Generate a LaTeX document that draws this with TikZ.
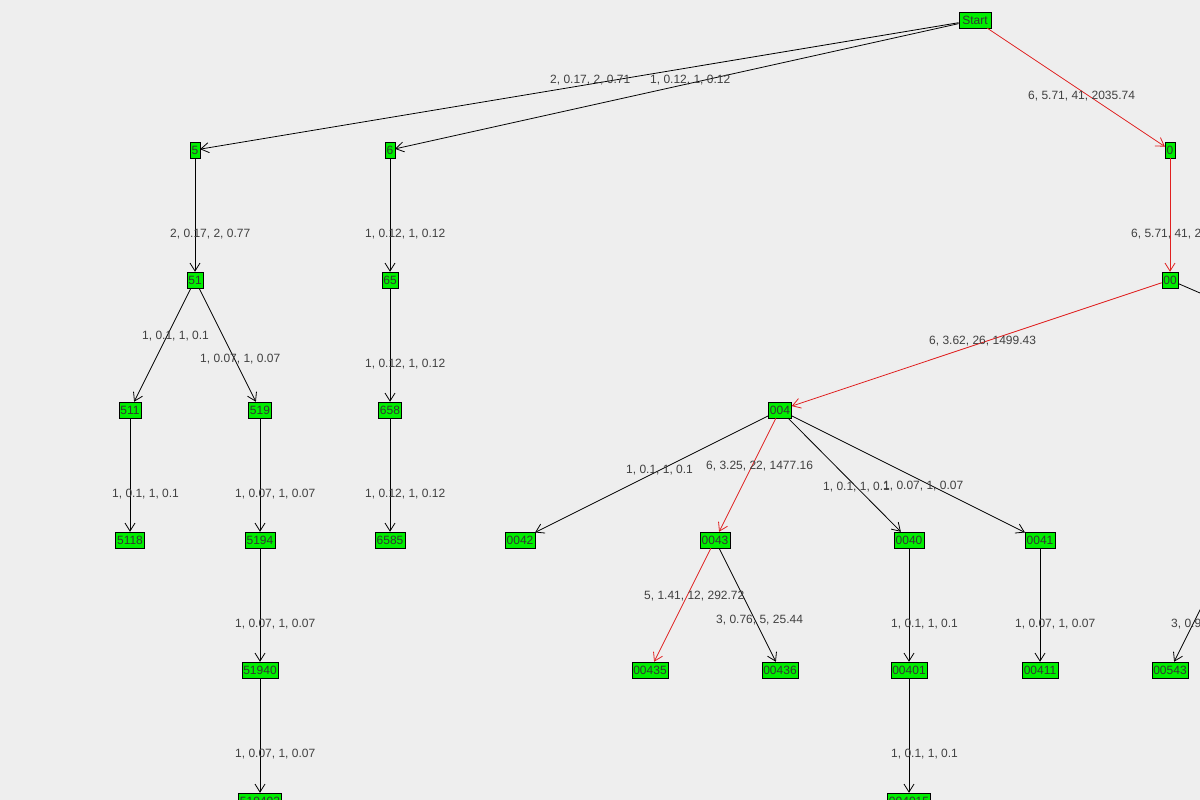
\documentclass[tikz,border=0pt]{standalone}
\usepackage{fontspec}
\setmainfont{Liberation Sans}
\usetikzlibrary{arrows.meta}
\definecolor{bg}{HTML}{EEEEEE}
\definecolor{ng}{HTML}{00EE00}
\definecolor{er}{HTML}{E02020}
\begin{document}
\begin{tikzpicture}[x=1pt,y=-1pt,
  nd/.style={draw=black,fill=ng,inner xsep=1.5pt,inner ysep=1pt,font=\fontsize{12}{12}\selectfont,text=black!80,minimum height=16pt},
  ed/.style={draw=black,line width=0.8pt,-{Straight Barb[length=8pt,width=10pt]}},
  hot/.style={ed,draw=er},
  lb/.style={anchor=west,inner sep=0pt,font=\fontsize{12}{12}\selectfont,text=black!75}]
\fill[bg] (0,0) rectangle (1200,800);
\useasboundingbox (0,0) rectangle (1200,800);
\clip (0,0) rectangle (1200,800);
\node[nd] (st) at (975,20) {\,Start\,};
\node[nd] (n5) at (195,150) {5};
\node[nd] (n6) at (390,150) {6};
\node[nd] (n0) at (1170,150) {0};
\node[nd] (n51) at (195,280) {51};
\node[nd] (n65) at (390,280) {65};
\node[nd] (n00) at (1170,280) {00};
\node[nd] (n511) at (130,410) {511};
\node[nd] (n519) at (260,410) {519};
\node[nd] (n658) at (390,410) {658};
\node[nd] (n004) at (780,410) {004};
\node[nd] (n5118) at (130,540) {5118};
\node[nd] (n5194) at (260,540) {5194};
\node[nd] (n6585) at (390,540) {6585};
\node[nd] (n0042) at (520,540) {0042};
\node[nd] (n0043) at (715,540) {0043};
\node[nd] (n0040) at (909,540) {0040};
\node[nd] (n0041) at (1040,540) {0041};
\node[nd] (n51940) at (260,670) {51940};
\node[nd] (n00435) at (650,670) {00435};
\node[nd] (n00436) at (780,670) {00436};
\node[nd] (n00401) at (909,670) {00401};
\node[nd] (n00411) at (1040,670) {00411};
\node[nd] (n00543) at (1170,670) {00543};
\node[nd] (n519402) at (260,801) {519402};
\node[nd] (n004015) at (909,801) {004015};
\coordinate (c005) at (1470,410);
\coordinate (c0054) at (1235,540);
\draw[ed] (st) -- (n5);
\draw[ed] (st) -- (n6);
\draw[hot] (st) -- (n0);
\draw[hot] (n0) -- (n00);
\draw[ed] (n5) -- (n51);
\draw[ed] (n6) -- (n65);
\draw[ed] (n51) -- (n511);
\draw[ed] (n51) -- (n519);
\draw[ed] (n65) -- (n658);
\draw[ed] (n511) -- (n5118);
\draw[ed] (n519) -- (n5194);
\draw[ed] (n658) -- (n6585);
\draw[ed] (n5194) -- (n51940);
\draw[ed] (n51940) -- (n519402);
\draw[hot] (n00) -- (n004);
\draw[draw=black,line width=0.8pt] (n00) -- (c005);
\draw[ed] (n004) -- (n0042);
\draw[hot] (n004) -- (n0043);
\draw[ed] (n004) -- (n0040);
\draw[ed] (n004) -- (n0041);
\draw[hot] (n0043) -- (n00435);
\draw[ed] (n0043) -- (n00436);
\draw[ed] (n0040) -- (n00401);
\draw[ed] (n00401) -- (n004015);
\draw[ed] (n0041) -- (n00411);
\draw[ed] (c0054) -- (n00543);
\node[lb] at (550,80) {2, 0.17, 2, 0.71};
\node[lb] at (650,80) {1, 0.12, 1, 0.12};
\node[lb] at (1028,96) {6, 5.71, 41, 2035.74};
\node[lb] at (170,234) {2, 0.17, 2, 0.77};
\node[lb] at (365,234) {1, 0.12, 1, 0.12};
\node[lb] at (1131,234) {6, 5.71, 41, 2035.74};
\node[lb] at (142,336) {1, 0.1, 1, 0.1};
\node[lb] at (200,359) {1, 0.07, 1, 0.07};
\node[lb] at (365,364) {1, 0.12, 1, 0.12};
\node[lb] at (929,341) {6, 3.62, 26, 1499.43};
\node[lb] at (112,494) {1, 0.1, 1, 0.1};
\node[lb] at (235,494) {1, 0.07, 1, 0.07};
\node[lb] at (365,494) {1, 0.12, 1, 0.12};
\node[lb] at (626,470) {1, 0.1, 1, 0.1};
\node[lb] at (706,466) {6, 3.25, 22, 1477.16};
\node[lb] at (823,487) {1, 0.1, 1, 0.1};
\node[lb] at (883,486) {1, 0.07, 1, 0.07};
\node[lb] at (644,596) {5, 1.41, 12, 292.72};
\node[lb] at (716,620) {3, 0.76, 5, 25.44};
\node[lb] at (891,624) {1, 0.1, 1, 0.1};
\node[lb] at (1015,624) {1, 0.07, 1, 0.07};
\node[lb] at (1171,624) {3, 0.9};
\node[lb] at (235,624) {1, 0.07, 1, 0.07};
\node[lb] at (235,754) {1, 0.07, 1, 0.07};
\node[lb] at (891,754) {1, 0.1, 1, 0.1};
\end{tikzpicture}
\end{document}
